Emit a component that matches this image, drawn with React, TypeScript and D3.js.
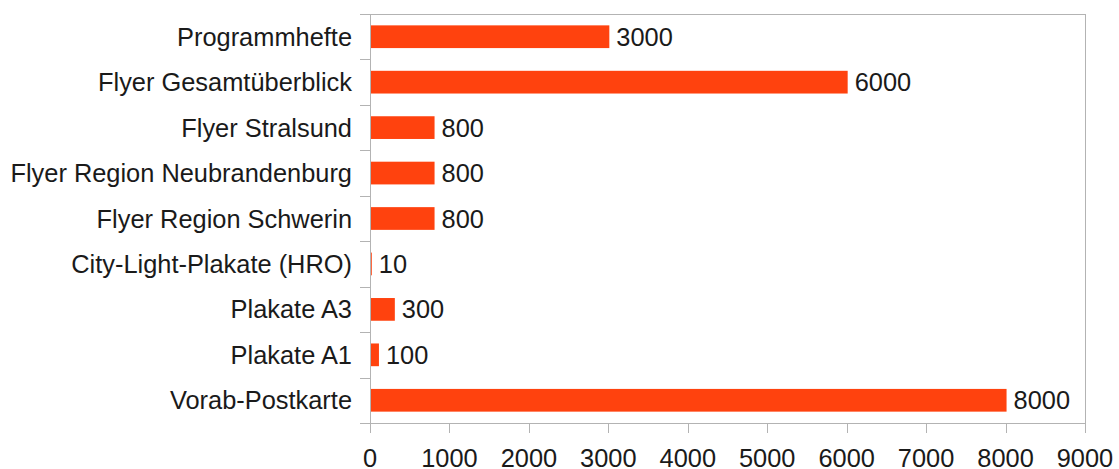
import React from "react";
import * as d3 from "d3";

const categories = [
  "Programmhefte",
  "Flyer Gesamtüberblick",
  "Flyer Stralsund",
  "Flyer Region Neubrandenburg",
  "Flyer Region Schwerin",
  "City-Light-Plakate (HRO)",
  "Plakate A3",
  "Plakate A1",
  "Vorab-Postkarte",
];
const values = [3000, 6000, 800, 800, 800, 10, 300, 100, 8000];
const xTicks = [0, 1000, 2000, 3000, 4000, 5000, 6000, 7000, 8000, 9000];

const W = 1119;
const H = 469;
const left = 370;
const right = 1085;
const top = 14;
const bottom = 423;
const font = "'Liberation Sans', Arial, sans-serif";
const fs = 25.4;
const grey = "#b3b3b3";
const textColor = "#1a1a1a";
const barColor = "#ff420e";

export default function App() {
  const x = d3.scaleLinear().domain([0, 9000]).range([left, right]);
  const y = d3.scaleBand<string>().domain(categories).range([top, bottom]).paddingInner(0.5).paddingOuter(0.25);
  const yb = d3.scaleBand<string>().domain(categories).range([top, bottom]);
  return (
    <svg width={W} height={H} style={{ position: "absolute", left: 0, top: 0, background: "#fff" }}>
      {/* frame */}
      <line x1={left} x2={right} y1={top + 0.5} y2={top + 0.5} stroke={grey} />
      <line x1={right + 0.5} x2={right + 0.5} y1={top} y2={bottom + 10} stroke={grey} />
      <line x1={left - 10} x2={right} y1={bottom + 0.5} y2={bottom + 0.5} stroke={grey} />
      <line x1={left + 0.5} x2={left + 0.5} y1={top} y2={bottom + 10} stroke={grey} />
      {/* category ticks */}
      {categories.map((c) => (
        <line key={"t" + c} x1={left - 10} x2={left} y1={Math.round(yb(c)!) + 0.5} y2={Math.round(yb(c)!) + 0.5} stroke={grey} />
      ))}
      {/* x ticks */}
      {xTicks.map((t) => (
        <g key={"x" + t}>
          <line x1={Math.round(x(t)) + 0.5} x2={Math.round(x(t)) + 0.5} y1={bottom} y2={bottom + 10} stroke={grey} />
          <text x={x(t)} y={466.5} textAnchor="middle" fontFamily={font} fontSize={fs} fill={textColor}>
            {t}
          </text>
        </g>
      ))}
      {/* bars */}
      {categories.map((c, i) => (
        <g key={"b" + c}>
          <rect x={x(0) + 1} y={y(c)!} width={x(values[i]) - x(0)} height={y.bandwidth()} fill={barColor} />
          <text
            x={x(values[i]) + 8}
            y={y(c)! + y.bandwidth() / 2}
            dominantBaseline="central"
            fontFamily={font}
            fontSize={fs}
            fill={textColor}
          >
            {values[i]}
          </text>
          <text
            x={352}
            y={yb(c)! + yb.bandwidth() / 2}
            dominantBaseline="central"
            textAnchor="end"
            fontFamily={font}
            fontSize={fs}
            fill={textColor}
          >
            {c}
          </text>
        </g>
      ))}
    </svg>
  );
}
